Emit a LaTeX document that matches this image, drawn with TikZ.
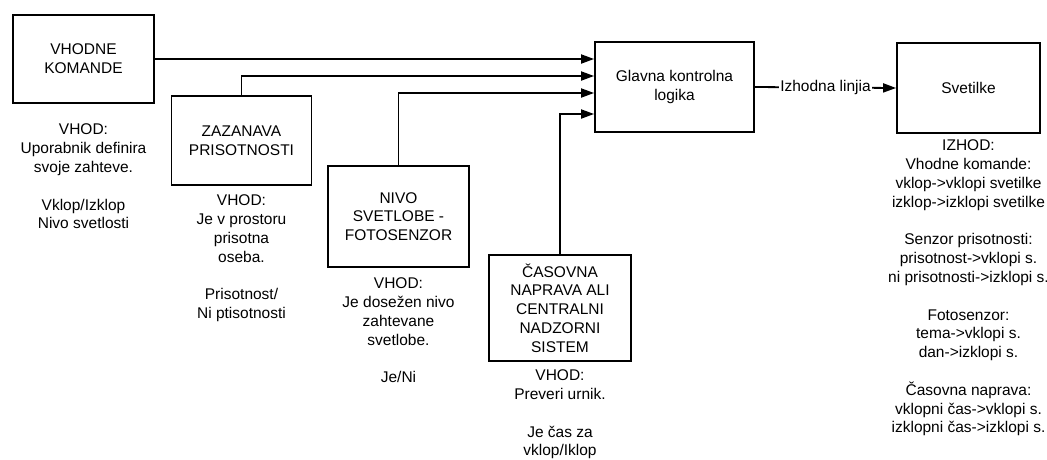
\documentclass[tikz,border=0pt]{standalone}
\usepackage{fontspec}
\setmainfont{Liberation Sans}
\usepackage{tikz}
\usetikzlibrary{arrows.meta,positioning,calc}

\begin{document}
\begin{tikzpicture}[
  x=1pt, y=-1pt,
  font=\fontsize{15.5}{18.8}\selectfont,
  box/.style={rectangle, draw, line width=1.8pt, align=center, inner sep=2pt},
  txt/.style={align=center, inner sep=0pt},
  arrow/.style={-{Triangle[length=13pt, width=9pt]}, line width=1.8pt},
]
  \useasboundingbox (0,0) rectangle (1047,459);

  \node[box, minimum width=141pt, minimum height=88pt] (vhodne) at (83.5,59) {VHODNE\\KOMANDE};
  \node[box, minimum width=140pt, minimum height=89pt] (zazanava) at (241.5,140.5) {ZAZANAVA\\PRISOTNOSTI};
  \node[box, minimum width=141pt, minimum height=101pt] (nivo) at (398.5,216.5) {NIVO\\SVETLOBE -\\FOTOSENZOR};
  \node[box, minimum width=142pt, minimum height=106pt] (casovna) at (560,308) {ČASOVNA\\NAPRAVA ALI\\CENTRALNI\\NADZORNI\\SISTEM};
  \node[box, minimum width=159pt, minimum height=90pt] (glavna) at (674.5,87) {Glavna kontrolna\\logika};
  \node[box, minimum width=143pt, minimum height=90pt] (svetilke) at (968.5,88) {Svetilke};

  \node[txt, below=20pt of vhodne] (vhodne_txt) {VHOD:\\Uporabnik definira\\svoje zahteve.\\[18.8pt]Vklop/Izklop\\Nivo svetlosti};
  \node[txt, below=9pt of zazanava] (zazanava_txt) {VHOD:\\Je v prostoru\\prisotna\\oseba.\\[18.8pt]Prisotnost/\\Ni ptisotnosti};
  \node[txt, below=10pt of nivo] (nivo_txt) {VHOD:\\Je dosežen nivo\\zahtevane\\svetlobe.\\[18.8pt]Je/Ni};
  \node[txt, below=8pt of casovna] (casovna_txt) {VHOD:\\Preveri urnik.\\[18.6pt]Je čas za\\vklop/Iklop};
  \node[txt, below=6pt of svetilke] (svetilke_txt) {IZHOD:\\Vhodne komande:\\vklop->vklopi svetilke\\izklop->izklopi svetilke\\[18.8pt]Senzor prisotnosti:\\prisotnost->vklopi s.\\ni prisotnosti->izklopi s.\\[18.8pt]Fotosenzor:\\tema->vklopi s.\\dan->izklopi s.\\[18.8pt]Časovna naprava:\\vklopni čas->vklopi s.\\izklopni čas->izklopi s.};

  \draw[arrow] (vhodne.east) -- (vhodne.east -| glavna.west);
  \draw[arrow] (zazanava.north) |- ([yshift=11pt]glavna.west);
  \draw[arrow] (nivo.north) |- ([yshift=-6pt]glavna.west);
  \draw[arrow] (casovna.north) |- ([yshift=-27pt]glavna.west);
  \draw[arrow] (glavna.east) -- node[fill=white, inner xsep=1pt, inner ysep=0pt] (izhod) {Izhodna linjia} (svetilke.west);
\end{tikzpicture}
\end{document}
